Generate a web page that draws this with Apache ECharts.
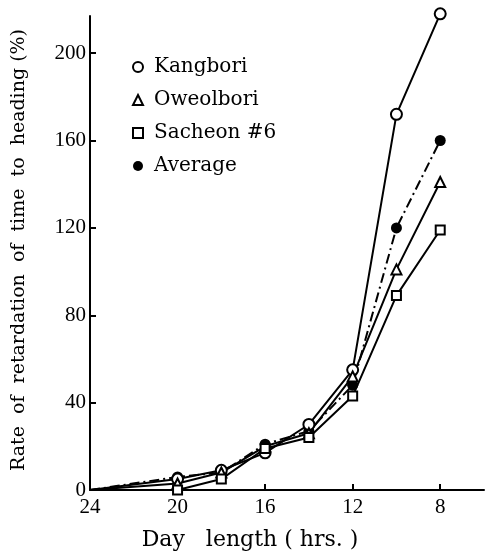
<!DOCTYPE html>
<html>
<head>
<meta charset="utf-8">
<script src="https://cdn.jsdelivr.net/npm/echarts@6/dist/echarts.min.js"></script>
<style>
html,body{margin:0;padding:0;background:#fff;}
#chart{width:486px;height:558px;}
</style>
</head>
<body>
<div id="chart"></div>
<script>
// Day length (hrs.)
var dayLength = [24, 20, 18, 16, 14, 12, 10, 8];
// Rate of retardation of time to heading (%)
var kangbori  = [0, 5, 9, 17, 30, 55, 172, 218];
var oweolbori = [0, 3, 8, 20, 26, 52, 101, 141];
var sacheon6  = [0, 0, 5, 19, 24, 43, 89, 119];
var average   = [0, 6, 8, 21, 27, 48, 120, 160];

var seriesNames = ['Kangbori', 'Oweolbori', 'Sacheon #6', 'Average'];
var xTicks = [24, 20, 16, 12, 8];
var yTicks = [0, 40, 80, 120, 160, 200];

function pairs(vals) {
  return dayLength.map(function (d, i) {
    // the 24 h starting point is drawn without a marker
    return i === 0 ? {value: [d, vals[i]], symbol: 'none'} : [d, vals[i]];
  });
}

var chart = echarts.init(document.getElementById('chart'), null, {renderer: 'canvas'});
var serif = 'DejaVu Serif';
var numFont = 'Liberation Serif';

var option = {
  backgroundColor: '#fff',
  animation: false,
  grid: {left: 90, right: 2, top: 16, bottom: 68, containLabel: false, outerBoundsMode: 'none'},
  legend: {
    orient: 'vertical',
    left: 127,
    top: 52,
    itemWidth: 10,
    itemHeight: 10,
    itemGap: 13,
    textStyle: {fontFamily: serif, fontSize: 20, color: '#000', lineHeight: 20, padding: [0, 0, 0, 6]},
    data: [
      {name: seriesNames[0], icon: 'emptyCircle'},
      {name: seriesNames[1], icon: 'emptyTriangle'},
      {name: seriesNames[2], icon: 'emptyRect'},
      {name: seriesNames[3], icon: 'circle'}
    ]
  },
  xAxis: {
    type: 'value',
    min: 6,
    max: 24,
    inverse: true,
    splitLine: {show: false},
    axisLine: {onZero: false, lineStyle: {color: '#000', width: 2}},
    axisTick: {inside: true, length: 6, lineStyle: {color: '#000', width: 2}, customValues: xTicks},
    axisLabel: {customValues: xTicks, color: '#000', fontFamily: numFont, fontSize: 21, margin: 7}
  },
  yAxis: {
    type: 'value',
    min: 0,
    max: 217,
    splitLine: {show: false},
    axisLine: {show: true, onZero: false, lineStyle: {color: '#000', width: 2}},
    axisTick: {show: true, inside: true, length: 6, lineStyle: {color: '#000', width: 2}, customValues: yTicks},
    axisLabel: {customValues: yTicks, color: '#000', fontFamily: numFont, fontSize: 21, margin: 4}
  },
  graphic: [
    {
      type: 'text',
      x: 19, y: 250,
      rotation: Math.PI / 2,
      style: {
        text: 'Rate  of  retardation  of  time  to  heading (%)',
        fontFamily: serif, fontSize: 19, fill: '#000',
        textAlign: 'center', textVerticalAlign: 'middle'
      }
    },
    {
      type: 'text',
      x: 250, y: 540,
      style: {
        text: 'Day   length ( hrs. )',
        fontFamily: serif, fontSize: 22, fill: '#000',
        textAlign: 'center', textVerticalAlign: 'middle'
      }
    }
  ],
  series: [
    {
      name: seriesNames[0], type: 'line', data: pairs(kangbori), clip: false,
      symbol: 'emptyCircle', symbolSize: 11, color: '#000',
      lineStyle: {color: '#000', width: 2}, itemStyle: {color: '#000', borderWidth: 2}, z: 3
    },
    {
      name: seriesNames[1], type: 'line', data: pairs(oweolbori), clip: false,
      symbol: 'emptyTriangle', symbolSize: 10, color: '#000',
      lineStyle: {color: '#000', width: 2}, itemStyle: {color: '#000', borderWidth: 2}, z: 3
    },
    {
      name: seriesNames[2], type: 'line', data: pairs(sacheon6), clip: false,
      symbol: 'emptyRect', symbolSize: 9, color: '#000',
      lineStyle: {color: '#000', width: 2}, itemStyle: {color: '#000', borderWidth: 2}, z: 3
    },
    {
      name: seriesNames[3], type: 'line', data: pairs(average), clip: false,
      symbol: 'circle', symbolSize: 11, color: '#000',
      lineStyle: {color: '#000', width: 2, type: [10, 4, 2, 4]}, itemStyle: {color: '#000'}, z: 2
    }
  ]
};
chart.setOption(option);
</script>
</body>
</html>
